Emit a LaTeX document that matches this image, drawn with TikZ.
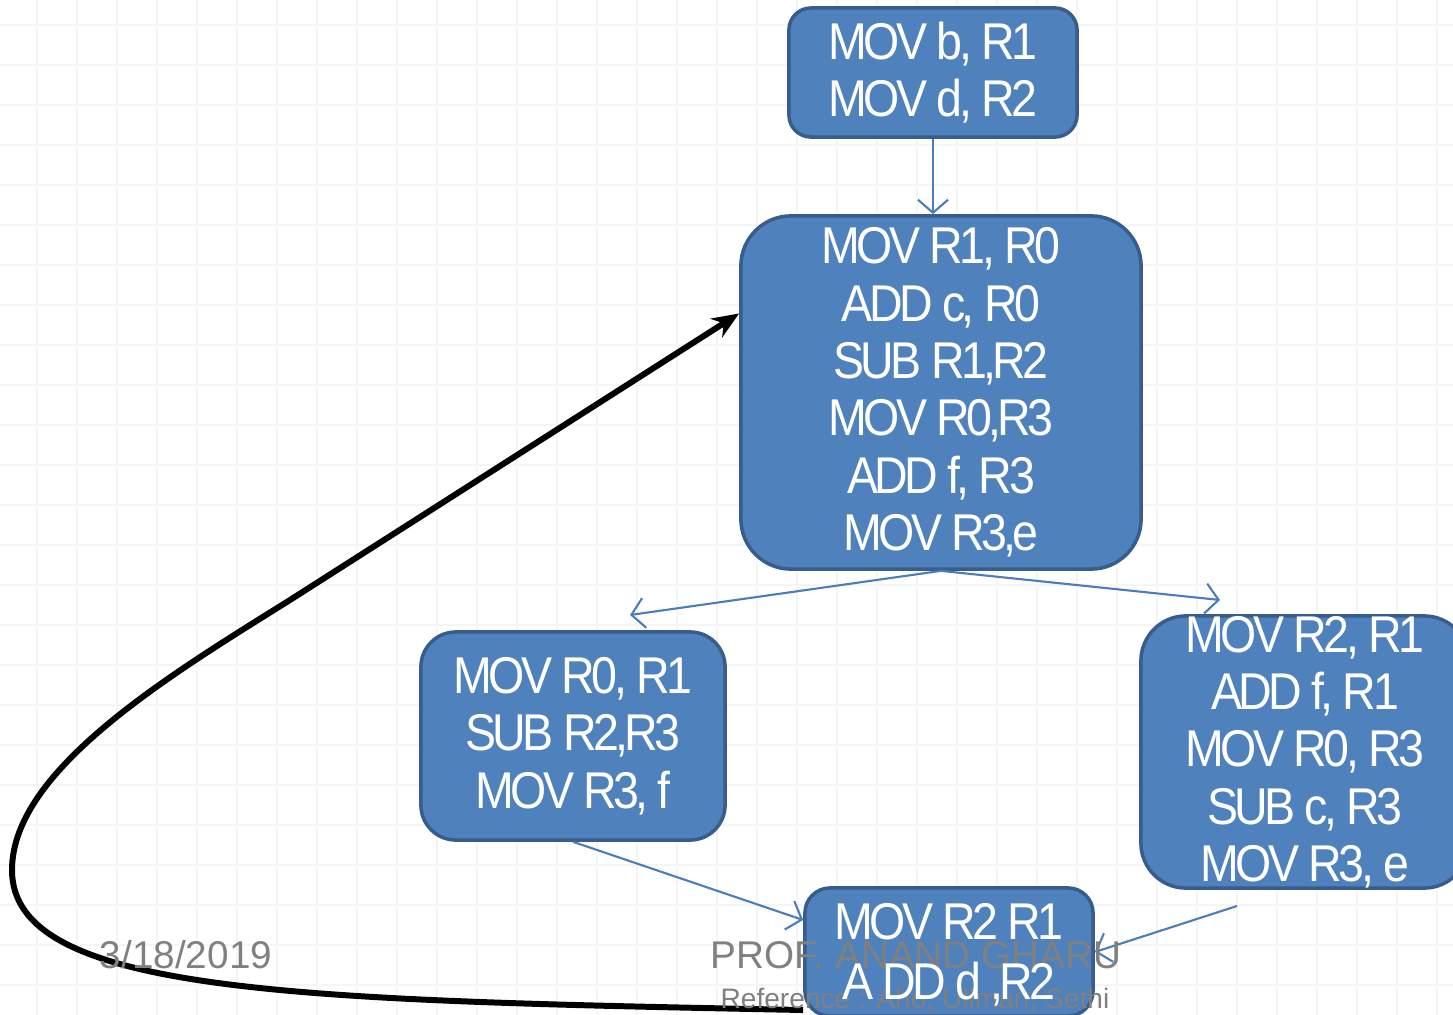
\documentclass[tikz,border=0pt]{standalone}
\usepackage{fontspec}
\setmainfont{Liberation Sans}
\newfontfamily\boxfont{Liberation Sans}[FakeStretch=0.9,LetterSpace=-7]
\usetikzlibrary{arrows.meta}
\definecolor{boxfill}{HTML}{4F81BD}
\definecolor{boxline}{HTML}{385D8A}
\definecolor{flowline}{HTML}{4A7EBB}
\definecolor{gridcol}{HTML}{F5F5F5}
\definecolor{footgray}{HTML}{808080}
\tikzset{
  block/.style={draw=boxline,fill=boxfill,line width=1pt,text=white,align=center,inner sep=0pt,
    font=\boxfont\fontsize{14.7}{16.3}\selectfont},
  flow/.style={draw=flowline,line width=0.6pt,-{Straight Barb[length=0.13cm,width=0.3cm]}},
  foot/.style={text=footgray,anchor=base}
}
\begin{document}
\begin{tikzpicture}[x=0.01cm,y=-0.01cm]
  \useasboundingbox (0,0) rectangle (1453,1015);
  \clip (0,0) rectangle (1453,1015);
  % background grid
  \foreach \gx in {0,...,35} \draw[gridcol,line width=0.6pt] (36.7+40*\gx,0) -- ++(0,1015);
  \foreach \gy in {0,...,24} \draw[gridcol,line width=0.6pt] (0,25+40*\gy) -- ++(1453,0);

  \node[block,minimum width=2.88cm,minimum height=1.29cm,rounded corners=0.22cm] (top) at (933,72.5) {MOV b, R1\\MOV d, R2};
  \node[block,minimum width=4cm,minimum height=3.53cm,rounded corners=0.5cm] (mid) at (941,392.5) {MOV R1, R0\\ADD c, R0\\SUB R1,R2\\MOV R0,R3\\ADD f, R3\\MOV R3,e};
  \node[block,minimum width=3.04cm,minimum height=2.08cm,rounded corners=0.35cm] (left) at (573,736) {MOV R0, R1\\SUB R2,R3\\MOV R3, f};
  \node[block,minimum width=3.28cm,minimum height=2.72cm,rounded corners=0.45cm] (right) at (1305,752) {MOV R2, R1\\ADD f, R1\\MOV R0, R3\\SUB c, R3\\MOV R3, e};
  \node[block,minimum width=2.88cm,minimum height=1.28cm,rounded corners=0.25cm] (bot) at (949,952) {};

  \coordinate (lt) at (630,615);
  \coordinate (rt) at (1220,600);
  \coordinate (rs) at (1237,906);
  \draw[flow] (top.south) -- (top.south |- mid.north);
  \draw[flow] (mid.south) -- (lt);
  \draw[flow] (mid.south) -- (rt);
  \draw[flow] (left.south) -- ([yshift=0.32cm]bot.west);
  \draw[flow] (rs) -- (bot.east);

  % loop back
  \draw[line width=1.7pt,-{Stealth[length=0.27cm,width=0.22cm]}] ([yshift=-0.58cm]bot.west)
    .. controls (300,1000) and (12,995) .. (12,870)
    .. controls (12,770) and (170,675) .. (290,600) -- ([yshift=0.79cm]mid.west);

  \node[foot,font=\fontsize{11}{13}\selectfont] (date) at (186,968) {3/18/2019};
  \node[foot,font=\fontsize{11}{13}\selectfont] (prof) at (916,968) {PROF. ANAND GHARU};
  \node[foot,font=\fontsize{8}{10}\selectfont] (ref) at (915,1008) {Reference : Aho, Ullman, Sethi};
  \node[text=white,align=center,inner sep=0pt,font=\boxfont\fontsize{14.7}{17}\selectfont] (botlbl) at ([yshift=-0.03cm]bot.center) {MOV R2 R1\\A DD d ,R2};
\end{tikzpicture}
\end{document}
